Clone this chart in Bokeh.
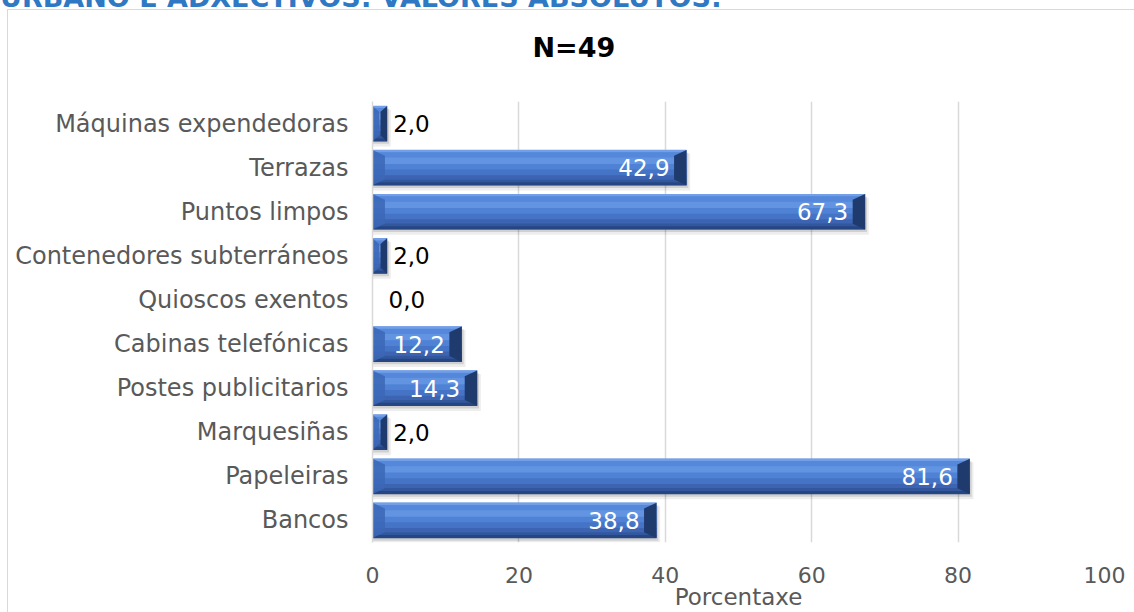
from bokeh.plotting import figure
from bokeh.models import Range1d, FixedTicker, ColumnDataSource, Div, Title
from bokeh.layouts import column
from bokeh.embed import file_html
from bokeh.resources import INLINE
from bokeh.core.properties import value

# ---- data (top to bottom as shown) ----
categories = ["Máquinas expendedoras", "Terrazas", "Puntos limpos",
              "Contenedores subterráneos", "Quioscos exentos", "Cabinas telefónicas",
              "Postes publicitarios", "Marquesiñas", "Papeleiras", "Bancos"]
values = [2.0, 42.9, 67.3, 2.0, 0.0, 12.2, 14.3, 2.0, 81.6, 38.8]
x_ticks = [0, 20, 40, 60, 80, 100]
header_text = "URBANO E ADXECTIVOS: VALORES ABSOLUTOS:"
title_text = "N=49"
x_label = "Porcentaxe"

FONT = "DejaVu Sans"
n = len(categories)
ypos = [n - 1 - i for i in range(n)]

header = Div(text=f'<div style="position:relative; top:-16px; white-space:nowrap; '
                  f'font-family:\'DejaVu Sans\'; font-weight:bold; font-size:27px; '
                  f'line-height:27px; color:#2f78c4;">{header_text}</div>',
             width=1134, height=8, styles={"overflow": "hidden"}, margin=(0, 0, 0, 0))

p = figure(width=1126, height=602, output_backend="svg", toolbar_location=None,
           x_range=Range1d(0, 100), y_range=Range1d(-0.5, n - 0.5),
           min_border_left=364, min_border_right=30, min_border_top=91, min_border_bottom=69,
           margin=(2, 0, 0, 8), styles={"outline": "1.5px solid #d9d9d9"})
p.outline_line_color = None
p.background_fill_color = "white"
p.border_fill_color = "white"

# chart title, with an empty spacer title between it and the plot area
p.title.text = title_text
p.title.align = "left"
p.title.offset = 160
p.title.standoff = 0
p.title.text_font = FONT
p.title.text_font_size = "27px"
p.title.text_font_style = "bold"
p.title.text_color = "black"
p.add_layout(Title(text=" ", text_font_size="10px", standoff=26), "above")

# grid
p.xgrid.ticker = FixedTicker(ticks=x_ticks)
p.xgrid.grid_line_color = "#d9d9d9"
p.xgrid.grid_line_width = 1.5
p.ygrid.grid_line_color = None

# axes
p.xaxis.ticker = FixedTicker(ticks=x_ticks)
p.xaxis.axis_line_color = None
p.xaxis.major_tick_line_color = None
p.xaxis.minor_tick_line_color = None
p.xaxis.major_label_text_font = FONT
p.xaxis.major_label_text_font_size = "22px"
p.xaxis.major_label_text_color = "#595959"
p.xaxis.major_label_standoff = 18
p.xaxis.axis_label = x_label
p.xaxis.axis_label_text_font = FONT
p.xaxis.axis_label_text_font_size = "23px"
p.xaxis.axis_label_text_font_style = "normal"
p.xaxis.axis_label_text_color = "#595959"
p.xaxis.axis_label_standoff = -2

p.yaxis.ticker = FixedTicker(ticks=ypos)
p.yaxis.major_label_overrides = {ypos[i]: categories[i] for i in range(n)}
p.yaxis.axis_line_color = "#d9d9d9"
p.yaxis.axis_line_width = 1.5
p.yaxis.major_tick_line_color = None
p.yaxis.minor_tick_line_color = None
p.yaxis.major_label_text_font = FONT
p.yaxis.major_label_text_font_size = "24px"
p.yaxis.major_label_text_color = "#595959"
p.yaxis.major_label_standoff = 18

# ---- bars ----
H = 0.8
nz = [i for i in range(n) if values[i] > 0]
ys = [ypos[i] for i in nz]
vs = [values[i] for i in nz]

# shadow
p.hbar(y=[y - 0.10 for y in ys], left=0, right=[v + 0.5 for v in vs], height=H + 0.04,
       fill_color="black", fill_alpha=0.07, line_color=None)
p.hbar(y=[y - 0.06 for y in ys], left=0, right=[v + 0.25 for v in vs], height=H,
       fill_color="black", fill_alpha=0.12, line_color=None)

# base face then vertical gradient bands (top -> bottom)
p.hbar(y=ys, left=0, right=vs, height=H, fill_color="#4a7bcf", line_color=None)
profile = [(0.00, 0.07, "#729fe8"), (0.07, 0.22, "#5587da"), (0.22, 0.40, "#6294e2"),
           (0.40, 0.56, "#4f81d4"), (0.56, 0.72, "#4574c6"),
           (0.72, 0.84, "#3c64b2"), (0.84, 0.92, "#32579c"), (0.92, 1.00, "#264583")]
for a, b, c in profile:
    center = H / 2 - (a + b) / 2 * H
    p.hbar(y=[y + center for y in ys], left=0, right=vs, height=(b - a) * H + 0.01,
           fill_color=c, line_color=None)

# bevel ends
BX, BY = 1.7, 0.13
right_xs, right_ys, left_xs, left_ys = [], [], [], []
for y, v in zip(ys, vs):
    bx = min(BX, v * 0.45)
    top, bot = y + H / 2, y - H / 2
    right_xs.append([v - bx, v, v, v - bx])
    right_ys.append([top - BY, top, bot, bot + BY])
    left_xs.append([0, bx, bx, 0])
    left_ys.append([top, top - BY, bot + BY, bot])
p.patches(xs=left_xs, ys=left_ys, fill_color="#3b67b6", fill_alpha=0.85, line_color=None)
p.patches(xs=right_xs, ys=right_ys, fill_color="#1f3a6c", line_color=None)

# ---- value labels ----
labels = [f"{v:.1f}".replace(".", ",") for v in values]
inside = [i for i in range(n) if values[i] >= 10]
outside = [i for i in range(n) if values[i] < 10]
src_in = ColumnDataSource(dict(x=[values[i] for i in inside], y=[ypos[i] for i in inside],
                               t=[labels[i] for i in inside]))
src_out = ColumnDataSource(dict(x=[values[i] for i in outside], y=[ypos[i] for i in outside],
                                t=[labels[i] for i in outside],
                                off=[6 if values[i] > 0 else 16 for i in outside]))
p.text(x="x", y="y", text="t", source=src_in, text_align="right", text_baseline="middle",
       x_offset=-17, text_color="white", text_font=value(FONT), text_font_size="23px")
p.text(x="x", y="y", text="t", source=src_out, text_align="left", text_baseline="middle",
       x_offset="off", text_color="black", text_font=value(FONT), text_font_size="23px")

layout = column(header, p, spacing=0)
open("out.html", "w").write(file_html(layout, INLINE))
